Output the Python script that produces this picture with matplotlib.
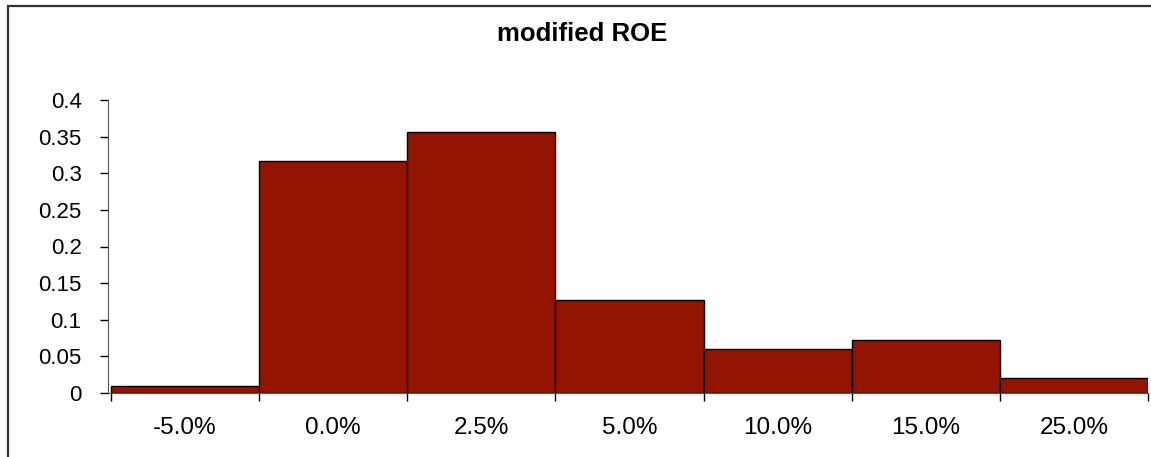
import numpy as np
import matplotlib
matplotlib.use("Agg")
import matplotlib.pyplot as plt
from matplotlib.patches import Rectangle

categories = ["-5.0%", "0.0%", "2.5%", "5.0%", "10.0%", "15.0%", "25.0%"]
values = [0.01, 0.317, 0.356, 0.127, 0.060, 0.072, 0.020]
yticks = [0, 0.05, 0.1, 0.15, 0.2, 0.25, 0.3, 0.35, 0.4]
ytick_labels = ["0", "0.05", "0.1", "0.15", "0.2", "0.25", "0.3", "0.35", "0.4"]

plt.rcParams["font.family"] = ["Liberation Sans", "DejaVu Sans"]

fig = plt.figure(figsize=(11.51, 4.57), dpi=100)
fig.patch.set_facecolor("white")
# outer chart frame (right/bottom edges fall outside the image)
fig.patches.append(Rectangle((8/1151, -0.05), 1.2, 1.05 - 5.5/457, transform=fig.transFigure,
                             fill=False, edgecolor="#333333", linewidth=1.6))

ax = fig.add_axes([108/1151, 1 - 393/457, 1040/1151, 293/457])
x = np.arange(len(categories))
ax.bar(x, values, width=1.0, color="#931500", edgecolor="black", linewidth=1.0)

ax.set_xlim(-0.52, len(categories) - 0.5)
ax.set_ylim(0, 0.4)
ax.set_yticks(yticks)
ax.set_yticklabels(ytick_labels)
ax.set_xticks(x)
ax.set_xticklabels(categories)
ax.set_xticks(np.arange(len(categories) + 1) - 0.5, minor=True)
ax.tick_params(axis="x", which="major", length=0, pad=17, labelsize=17.5)
ax.tick_params(axis="x", which="minor", length=6, width=1, direction="out")
ax.tick_params(axis="y", length=6, width=1, direction="out", labelsize=16, pad=13)

for s in ["top", "right"]:
    ax.spines[s].set_visible(False)
for s in ["left", "bottom"]:
    ax.spines[s].set_color("#555555")

fig.text(582/1151, 1 - 34/457, "modified ROE", ha="center", va="center",
         fontsize=18.5, fontweight="bold")

fig.savefig("out.png", dpi=100, facecolor="white")
